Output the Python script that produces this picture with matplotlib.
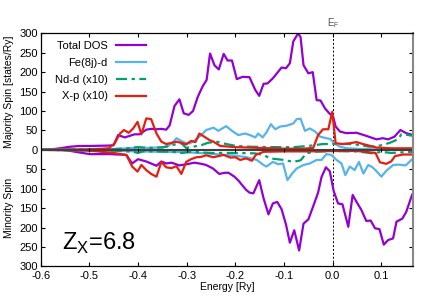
import matplotlib
matplotlib.use("Agg")
import matplotlib.pyplot as plt
from matplotlib.ticker import FixedLocator, FuncFormatter

plt.rcParams["font.family"] = ["Liberation Sans", "DejaVu Sans"]
plt.rcParams["mathtext.fontset"] = "custom"
plt.rcParams["mathtext.rm"] = "Liberation Sans"
plt.rcParams["axes.unicode_minus"] = False

# --- data (energy in Ry, DOS in states/Ry) ---
# majority spin
e_tot_up = [-0.60, -0.58, -0.56, -0.54, -0.52, -0.50, -0.46, -0.45, -0.441, -0.427,
            -0.417, -0.407, -0.397, -0.383, -0.373, -0.362, -0.352, -0.342, -0.335, -0.325,
            -0.315, -0.306, -0.296, -0.287, -0.277, -0.267, -0.259, -0.252, -0.243, -0.234,
            -0.224, -0.216, -0.207, -0.197, -0.185, -0.171, -0.159, -0.151, -0.142, -0.134,
            -0.123, -0.105, -0.096, -0.088, -0.081, -0.071, -0.066, -0.060, -0.050, -0.041,
            -0.033, -0.025, -0.016, -0.007, 0.001, 0.006, 0.015, 0.028, 0.049, 0.069,
            0.090, 0.103, 0.114, 0.127, 0.139, 0.151, 0.165]
tot_up = [0, 1, 4, 8, 10, 10, 11, 12, 38, 32,
          36, 40, 40, 52, 54, 53, 54, 52, 63, 113,
          130, 94, 90, 100, 137, 164, 180, 248, 218, 207,
          247, 230, 230, 182, 188, 187, 154, 139, 170, 171,
          184, 212, 210, 223, 279, 300, 290, 218, 197, 200,
          128, 127, 107, 94, 85, 60, 47, 43, 44, 36,
          27, 30, 27, 34, 51, 43, 38]

e_fe_up = [-0.60, -0.45, -0.42, -0.40, -0.38, -0.36, -0.34, -0.328, -0.321, -0.313,
           -0.303, -0.293, -0.283, -0.270, -0.260, -0.245, -0.235, -0.219, -0.207, -0.194,
           -0.180, -0.170, -0.159, -0.153, -0.144, -0.136, -0.127, -0.118, -0.108, -0.095,
           -0.081, -0.074, -0.066, -0.057, -0.047, -0.036, -0.026, -0.013, -0.005, 0.003,
           0.015, 0.030, 0.060, 0.100, 0.140, 0.165]
fe_up = [0, 2, 4, 6, 5, 6, 8, 20, 30, 24,
         18, 17, 25, 38, 51, 57, 49, 61, 49, 38,
         42, 38, 32, 42, 32, 45, 66, 53, 60, 62,
         68, 79, 80, 49, 55, 47, 34, 30, 28, 17,
         8, 4, 2, 1, 1, 1]

e_nd_up = [-0.60, -0.45, -0.42, -0.40, -0.38, -0.35, -0.332, -0.311, -0.301, -0.287,
           -0.270, -0.257, -0.239, -0.219, -0.198, -0.17, -0.12, -0.08, -0.05, -0.02,
           0.015, 0.042, 0.076, 0.097, 0.117, 0.134, 0.141, 0.151, 0.165]
nd_up = [0, 2, 4, 7, 5, 6, 12, 17, 5, 8,
         12, 18, 21, 15, 10, 8, 7, 7, 10, 15,
         15, 15, 8, 11, 18, 27, 40, 39, 36]

e_xp_up = [-0.60, -0.50, -0.46, -0.448, -0.437, -0.429, -0.419, -0.410, -0.401, -0.393,
           -0.383, -0.373, -0.362, -0.352, -0.342, -0.331, -0.321, -0.311, -0.301, -0.291,
           -0.282, -0.274, -0.264, -0.253, -0.245, -0.231, -0.20, -0.15, -0.10, -0.06,
           -0.040, -0.030, -0.020, -0.009, -0.001, 0.006, 0.020, 0.035, 0.049, 0.062,
           0.090, 0.12, 0.165]
xp_up = [0, 1, 4, 17, 42, 51, 44, 55, 72, 40,
         81, 79, 42, 21, 15, 18, 21, 18, 14, 23,
         20, 42, 34, 25, 21, 10, 7, 5, 3, 3,
         5, 38, 53, 53, 98, 17, 15, 17, 20, 15,
         6, 4, 4]

# minority spin (magnitudes, drawn downwards)
e_tot_dn = [-0.60, -0.56, -0.547, -0.519, -0.499, -0.458, -0.424, -0.412, -0.400, -0.383,
            -0.362, -0.352, -0.342, -0.331, -0.315, -0.300, -0.284, -0.270, -0.260, -0.246,
            -0.233, -0.222, -0.214, -0.202, -0.193, -0.178, -0.171, -0.163, -0.151, -0.142,
            -0.132, -0.123, -0.114, -0.105, -0.096, -0.088, -0.079, -0.069, -0.060, -0.050,
            -0.040, -0.030, -0.023, -0.014, -0.006, 0.002, 0.011, 0.020, 0.032, 0.041,
            0.049, 0.059, 0.069, 0.078, 0.087, 0.096, 0.105, 0.114, 0.124, 0.131,
            0.143, 0.151, 0.163, 0.165]
tot_dn = [0, 0, 1, 7, 11, 11, 13, 35, 24, 30,
          41, 30, 35, 33, 40, 37, 33, 36, 39, 48,
          62, 59, 59, 69, 80, 103, 110, 112, 78, 125,
          166, 138, 134, 153, 192, 239, 207, 259, 190, 179,
          145, 110, 70, 45, 55, 106, 138, 140, 198, 116,
          134, 155, 183, 182, 202, 204, 244, 232, 228, 185,
          177, 160, 116, 112]

e_fe_dn = [-0.60, -0.45, -0.40, -0.35, -0.30, -0.25, -0.226, -0.20, -0.177, -0.156,
           -0.142, -0.136, -0.123, -0.112, -0.102, -0.093, -0.084, -0.074, -0.060, -0.047,
           -0.033, -0.023, -0.013, -0.003, 0.008, 0.018, 0.026, 0.035, 0.045, 0.054,
           0.063, 0.073, 0.082, 0.090, 0.100, 0.110, 0.124, 0.135, 0.150, 0.165]
fe_dn = [0, 2, 4, 5, 6, 10, 13, 15, 19, 26,
         39, 43, 31, 37, 35, 78, 62, 48, 39, 35,
         26, 26, 11, 13, 26, 35, 65, 43, 52, 31,
         61, 39, 45, 55, 69, 54, 39, 38, 40, 22]

e_nd_dn = [-0.60, -0.45, -0.41, -0.40, -0.39, -0.36, -0.33, -0.31, -0.29, -0.25,
           -0.20, -0.16, -0.142, -0.129, -0.10, -0.081, -0.066, -0.054, -0.04, 0.0,
           0.05, 0.083, 0.10, 0.12, 0.165]
nd_dn = [0, 2, 5, 8, 4, 4, 5, 8, 5, 8,
         8, 9, 13, 22, 26, 31, 27, 9, 5, 3,
         4, 9, 5, 8, 5]

e_xp_dn = [-0.60, -0.50, -0.45, -0.424, -0.412, -0.401, -0.393, -0.383, -0.373, -0.362,
           -0.352, -0.342, -0.331, -0.321, -0.311, -0.301, -0.291, -0.280, -0.270, -0.260,
           -0.245, -0.224, -0.210, -0.200, -0.190, -0.178, -0.166, -0.158, -0.142, -0.10,
           -0.05, 0.0, 0.05, 0.088, 0.097, 0.110, 0.120, 0.128, 0.145, 0.165]
xp_dn = [0, 2, 8, 13, 43, 56, 39, 52, 62, 69,
         31, 45, 47, 42, 62, 31, 24, 19, 18, 14,
         19, 13, 20, 19, 26, 22, 28, 13, 5, 4,
         4, 3, 3, 8, 32, 36, 30, 16, 12, 12]

x_ticks = [-0.6, -0.5, -0.4, -0.3, -0.2, -0.1, 0.0, 0.1]
y_ticks = [-300, -250, -200, -150, -100, -50, 0, 50, 100, 150, 200, 250, 300]

series = [
    ("Total DOS", "#9400d3", "-", e_tot_up, tot_up, e_tot_dn, tot_dn),
    ("Fe(8j)-d", "#56b4e9", "-", e_fe_up, fe_up, e_fe_dn, fe_dn),
    ("Nd-d (x10)", "#009e73", (0, (5, 2, 1.5, 2)), e_nd_up, nd_up, e_nd_dn, nd_dn),
    ("X-p (x10)", "#e51e10", "-", e_xp_up, xp_up, e_xp_dn, xp_dn),
]

fig = plt.figure(figsize=(4.28, 3.0), dpi=100)
ax = fig.add_axes([0.095, 0.112, 0.870, 0.777])

for label, color, ls, eu, vu, ed, vd in series:
    ax.plot(eu, vu, color=color, ls=ls, lw=1.6, label=label)
    ax.plot(ed, [-v for v in vd], color=color, ls=ls, lw=1.6)

# zero line with small ticks, Fermi level
ax.axhline(0, color="#404040", lw=1.5, zorder=2.5)
ax.plot(x_ticks, [0] * len(x_ticks), ls="none", marker="|", ms=3, mew=0.7,
        color="black", zorder=2.6)
ax.axvline(0, color="black", lw=0.7, ls=(0, (2, 2)), zorder=1)

ax.set_xlim(-0.6, 0.165)
ax.set_ylim(-300, 300)
ax.xaxis.set_major_locator(FixedLocator(x_ticks))
ax.xaxis.set_major_formatter(FuncFormatter(lambda v, p: f"{v:.1f}"))
ax.yaxis.set_major_locator(FixedLocator(y_ticks))
ax.yaxis.set_major_formatter(FuncFormatter(lambda v, p: f"{abs(int(round(v)))}"))
ax.tick_params(direction="in", length=3, width=0.8, labelsize=8,
               top=True, right=True, pad=2)
ax.tick_params(axis="x", pad=3)
for s in ax.spines.values():
    s.set_linewidth(0.9)
ax.spines["right"].set_color("#888888")
ax.spines["right"].set_linewidth(1.5)

ax.set_xlabel("Energy [Ry]", fontsize=7.5, labelpad=1)
fig.text(0.02, 0.695, "Majority Spin [states/Ry]", rotation=90,
         ha="center", va="center", fontsize=7.5)
fig.text(0.02, 0.307, "Minority Spin", rotation=90,
         ha="center", va="center", fontsize=7.5)

ax.text(0, 1.015, r"E$_{\mathrm{F}}$", transform=ax.get_xaxis_transform(),
        ha="center", va="bottom", fontsize=7, color="#555555")
ax.text(-0.557, -256, r"Z$_{\mathrm{X}}$=6.8", fontsize=17, ha="left",
        va="baseline")

# gnuplot-style key: right-aligned labels, sample line after the text
ax.legend(loc="upper left", bbox_to_anchor=(0.038, 0.968), frameon=False,
          markerfirst=False, fontsize=8, handlelength=2.7,
          handletextpad=0.75, labelspacing=0.62, borderpad=0,
          borderaxespad=0)

fig.savefig("out.png", dpi=100)
